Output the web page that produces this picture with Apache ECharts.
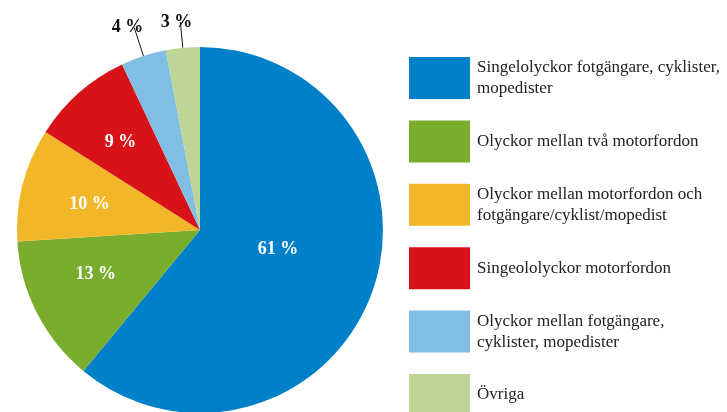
<!DOCTYPE html>
<html>
<head>
<meta charset="utf-8">
<script src="https://cdn.jsdelivr.net/npm/echarts@6/dist/echarts.min.js"></script>
<style>
html,body{margin:0;padding:0;background:#fff;}
#chart{width:727px;height:412px;}
</style>
</head>
<body>
<div id="chart"></div>
<script>
var categories = [
  'Singelolyckor fotgängare, cyklister,\nmopedister',
  'Olyckor mellan två motorfordon',
  'Olyckor mellan motorfordon och\nfotgängare/cyklist/mopedist',
  'Singeololyckor motorfordon',
  'Olyckor mellan fotgängare,\ncyklister, mopedister',
  'Övriga'
];
var values = [61, 13, 10, 9, 4, 3];
var colors = ['#0080C9', '#7AAD2D', '#F2B728', '#D71319', '#80BFE3', '#BED597'];

// label placement tweaks (style only)
var insideOffsets = [[-11, -13], [-20, 1], [-19, -2], [-17, -17]];
var outsideTweaks = [null, null, null, null,
  {dist: -9, padBottom: 20, len: 30},
  {dist: -12, padBottom: 14, len: 26}];

var data = categories.map(function (name, i) {
  var item = {name: name, value: values[i], itemStyle: {color: colors[i]}};
  if (outsideTweaks[i]) {
    var t = outsideTweaks[i];
    item.label = {
      position: 'outside', color: '#111', distanceToLabelLine: t.dist,
      padding: [0, 0, t.padBottom, 0]
    };
    item.labelLine = {show: true, length: t.len, length2: 0,
      lineStyle: {color: '#111', width: 1}};
  } else {
    item.label = {position: 'inside', color: '#fff', offset: insideOffsets[i]};
  }
  return item;
});

var chart = echarts.init(document.getElementById('chart'));
chart.setOption({
  animation: false,
  legend: {
    orient: 'vertical',
    left: 409,
    top: 57,
    height: 400,
    padding: 0,
    itemWidth: 61,
    itemHeight: 42,
    itemGap: 21.4,
    icon: 'rect',
    selectedMode: false,
    textStyle: {fontFamily: 'Liberation Serif', fontSize: 17, color: '#222', lineHeight: 21,
      padding: [0, 0, 0, 2]},
    data: categories
  },
  series: [{
    type: 'pie',
    center: [200, 230],
    radius: 183,
    startAngle: 90,
    clockwise: true,
    avoidLabelOverlap: false,
    itemStyle: {borderWidth: 0},
    label: {
      show: true,
      fontFamily: 'Liberation Serif',
      fontSize: 18,
      fontWeight: 'bold',
      formatter: function (p) { return p.value + ' %'; }
    },
    emphasis: {disabled: true},
    data: data
  }]
});
</script>
</body>
</html>
